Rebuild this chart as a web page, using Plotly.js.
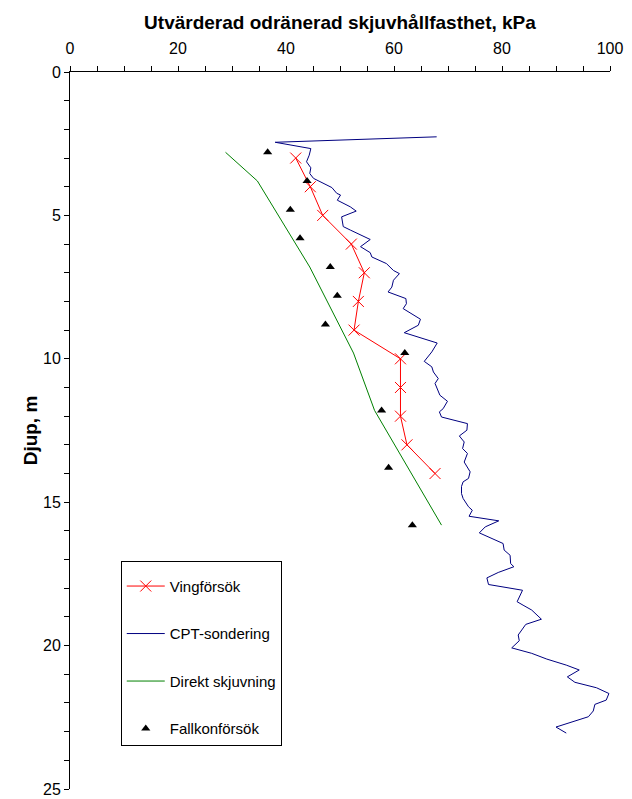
<!DOCTYPE html>
<html>
<head>
<meta charset="utf-8">
<script src="https://cdn.plot.ly/plotly-3.0.1.min.js"></script>
<style>body{margin:0;background:#fff}#chart{width:632px;height:799px}</style>
</head>
<body>
<div id="chart"></div>
<script>
// Vingförsök (vane tests)
const vingDepth = [3, 4, 5, 6, 7, 8, 9, 10, 11, 12, 13, 14];
const vingValue = [41.8, 44.5, 46.8, 52.1, 54.5, 53.4, 52.6, 61.2, 61.2, 61.2, 62.4, 67.6];

// CPT-sondering
const cptValue = [67.9, 38.0, 44.6, 44.3, 43.8, 44.6, 44.4, 45.1, 48.5, 49.4, 50.1, 49.5, 51.9, 53.0, 50.3, 50.6, 51.9, 55.6, 53.8, 55.6,
  55.9, 58.6, 59.9, 61.0, 59.9, 59.6, 58.9, 62.2, 62.3, 61.7, 64.9, 64.5, 61.9, 68.0, 67.0, 65.6, 67.0, 67.3, 68.2, 67.6,
  68.5, 69.9, 69.1, 68.4, 68.8, 73.6, 73.5, 72.1, 73.0, 72.7, 73.6, 73.0, 74.1, 73.8, 72.8, 72.5, 72.5, 72.8, 73.8, 74.5,
  73.9, 79.4, 76.9, 75.8, 80.2, 80.4, 81.5, 81.6, 82.2, 79.3, 77.2, 77.5, 83.8, 82.8, 83.9, 85.5, 87.3, 84.4, 83.0, 83.2,
  81.8, 85.5, 88.3, 91.9, 94.3, 92.1, 93.5, 97.5, 99.8, 99.3, 97.2, 96.9, 96.0, 90.0, 91.9];
const cptDepth = [2.26, 2.45, 2.67, 2.90, 3.13, 3.34, 3.54, 3.71, 4.03, 4.23, 4.29, 4.47, 4.70, 4.85, 5.05, 5.39, 5.51, 5.84, 6.09, 6.30,
  6.45, 6.68, 6.92, 7.03, 7.26, 7.50, 7.67, 7.90, 8.08, 8.25, 8.62, 8.83, 9.09, 9.45, 9.76, 10.09, 10.28, 10.46, 10.69, 10.86,
  11.27, 11.48, 11.74, 11.85, 12.03, 12.26, 12.49, 12.69, 12.90, 13.13, 13.30, 13.60, 13.94, 14.17, 14.29, 14.45, 14.70, 14.87, 15.16, 15.28,
  15.49, 15.65, 15.86, 16.07, 16.44, 16.67, 16.85, 17.14, 17.25, 17.45, 17.64, 17.87, 18.07, 18.47, 18.59, 18.76, 19.08, 19.26, 19.63, 19.83,
  20.08, 20.27, 20.47, 20.68, 20.85, 21.09, 21.28, 21.47, 21.67, 21.90, 22.05, 22.28, 22.48, 22.84, 23.05];

// Direkt skjuvning
const dsDepth = [2.8, 3.8, 6.8, 9.8, 11.8, 15.8];
const dsValue = [28.8, 34.7, 44.4, 52.5, 56.4, 68.8];

// Fallkonförsök
const fkDepth = [2.8, 3.8, 4.8, 5.8, 6.8, 7.8, 8.8, 9.8, 11.8, 13.8, 15.8];
const fkValue = [36.6, 43.9, 40.8, 42.6, 48.2, 49.5, 47.3, 62.0, 57.7, 59.0, 63.4];

const font = 'Liberation Sans, Arial, sans-serif';

const traces = [
  {x: vingValue, y: vingDepth, name: 'Vingförsök', legendgroup: 'a', mode: 'lines+markers',
   line: {color: '#ff0000', width: 1},
   marker: {symbol: 'x-thin-open', size: 11, color: '#ff0000', line: {color: '#ff0000', width: 1}}},
  {x: cptValue, y: cptDepth, name: 'CPT-sondering', legendgroup: 'b', mode: 'lines',
   line: {color: '#000080', width: 1}},
  {x: dsValue, y: dsDepth, name: 'Direkt skjuvning', legendgroup: 'c', mode: 'lines',
   line: {color: '#008000', width: 1}},
  {x: fkValue, y: fkDepth, name: 'Fallkonförsök', legendgroup: 'd', mode: 'markers',
   marker: {symbol: 'triangle-up', size: 8, color: '#000000'}}
];

const layout = {
  width: 632, height: 799,
  margin: {l: 70, r: 22, t: 72, b: 10},
  paper_bgcolor: '#fff', plot_bgcolor: '#fff',
  font: {family: font, color: '#000', size: 16},
  showlegend: true,
  legend: {x: 0.094, y: 0.318, xanchor: 'left', yanchor: 'top', bordercolor: '#000', borderwidth: 1,
           bgcolor: '#fff', font: {family: font, size: 15, color: '#000'}, tracegroupgap: 25, traceorder: 'grouped',
           itemwidth: 38, entrywidth: 140,
           title: {text: ' ', font: {family: font, size: 6}, side: 'top'}},
  xaxis: {
    side: 'top', range: [0, 100], dtick: 20, tick0: 0,
    ticks: 'outside', ticklen: 5, tickcolor: '#000', tickwidth: 1,
    minor: {dtick: 5, ticks: 'outside', ticklen: 5, tickcolor: '#000', tickwidth: 1},
    showline: true, linecolor: '#000', linewidth: 1, showgrid: false, zeroline: false,
    tickfont: {family: font, size: 16, color: '#000'}, ticklabelstandoff: 6,
    title: {text: '<b>Utvärderad odränerad skjuvhållfasthet, kPa</b>', font: {family: font, size: 19, color: '#000'}, standoff: 4},
    fixedrange: true
  },
  yaxis: {
    range: [25, 0], dtick: 5, tick0: 0,
    ticks: 'outside', ticklen: 5, tickcolor: '#000', tickwidth: 1,
    minor: {dtick: 1, ticks: 'outside', ticklen: 5, tickcolor: '#000', tickwidth: 1},
    showline: true, linecolor: '#000', linewidth: 1, showgrid: false, zeroline: false,
    tickfont: {family: font, size: 16, color: '#000'},
    title: {text: '<b>Djup, m</b>', font: {family: font, size: 19, color: '#000'}, standoff: 0},
    fixedrange: true
  }
};

Plotly.newPlot('chart', traces, layout, {displayModeBar: false, staticPlot: true});
</script>
</body>
</html>
